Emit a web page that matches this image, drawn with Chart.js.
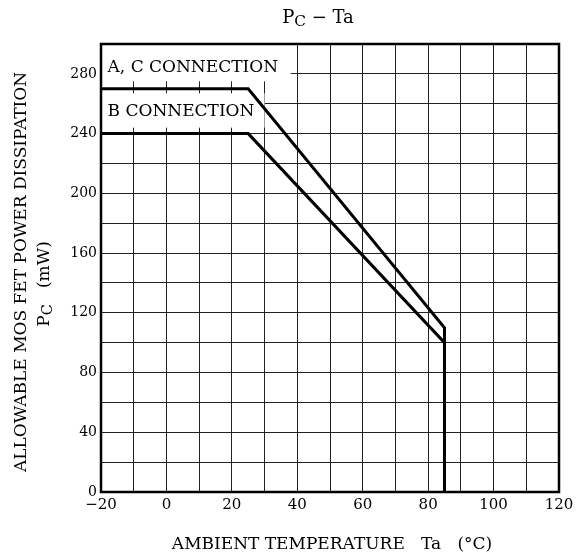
<!DOCTYPE html>
<html>
<head>
<meta charset="utf-8">
<script src="https://cdn.jsdelivr.net/npm/chart.js@4"></script>
<style>
  html, body { margin: 0; padding: 0; background: #fff; }
  #wrap { width: 587px; height: 560px; }
</style>
</head>
<body>
<div id="wrap"><canvas id="chart" width="587" height="560"></canvas></div>
<script>
// curve data (Ta in degC, Pc in mW)
const tempsAC = [-20, 25, 85, 85];
const powerAC = [270, 270, 110, 0];
const tempsB = [-20, 25, 85, 85];
const powerB = [240, 240, 100, 0];

// tick labels
const xTickValues = [-20, 0, 20, 40, 60, 80, 100, 120];
const xTickLabels = ['\u221220', '0', '20', '40', '60', '80', '100', '120'];
const yTickValues = [0, 40, 80, 120, 160, 200, 240, 280];

const seriesNames = ['A, C CONNECTION', 'B CONNECTION'];

const FONT = '"DejaVu Serif", "Liberation Serif", serif';

function toPoints(xs, ys) {
    return xs.map((x, i) => ({ x: x, y: ys[i] }));
}

// text with a lowered "C" after P (Pc)
function drawSub(ctx, x, y, main, sub, rest, size) {
    const subSize = size * 0.85;
    ctx.font = size + 'px ' + FONT;
    const w1 = ctx.measureText(main).width;
    ctx.font = subSize + 'px ' + FONT;
    const w2 = ctx.measureText(sub).width;
    ctx.font = size + 'px ' + FONT;
    const w3 = ctx.measureText(rest).width;
    const start = x - (w1 + w2 + w3) / 2;
    ctx.textAlign = 'left';
    ctx.textBaseline = 'middle';
    ctx.fillText(main, start, y);
    ctx.font = subSize + 'px ' + FONT;
    ctx.fillText(sub, start + w1, y + size * 0.22);
    ctx.font = size + 'px ' + FONT;
    ctx.fillText(rest, start + w1 + w2, y);
}

const decorPlugin = {
    id: 'decor',
    beforeDatasetsDraw(chart) {
        const ctx = chart.ctx;
        const xs = chart.scales.x, ys = chart.scales.y;
        ctx.save();
        // label boxes hide the grid behind them
        ctx.fillStyle = '#fff';
        const boxes = [[-20, 38, 275, 300], [-20, 30, 244, 267]];
        boxes.forEach(b => {
            const l = xs.getPixelForValue(b[0]), r = xs.getPixelForValue(b[1]);
            const t = ys.getPixelForValue(b[3]), bt = ys.getPixelForValue(b[2]);
            ctx.fillRect(l, t, r - l, bt - t);
        });
        ctx.fillStyle = '#000';
        ctx.font = '17px ' + FONT;
        ctx.textAlign = 'left';
        ctx.textBaseline = 'middle';
        ctx.fillText(seriesNames[0], xs.getPixelForValue(-18), ys.getPixelForValue(284.5));
        ctx.fillText(seriesNames[1], xs.getPixelForValue(-18), ys.getPixelForValue(255));
        ctx.restore();
    },
    afterDraw(chart) {
        const ctx = chart.ctx;
        const a = chart.chartArea;
        ctx.save();
        // frame
        ctx.strokeStyle = '#000';
        ctx.lineWidth = 2.5;
        ctx.strokeRect(a.left, a.top, a.right - a.left, a.bottom - a.top);
        ctx.fillStyle = '#000';
        // title
        drawSub(ctx, 318, 18, 'P', 'C', ' \u2212 Ta', 18);
        // x title
        ctx.font = '17px ' + FONT;
        ctx.textAlign = 'center';
        ctx.textBaseline = 'middle';
        ctx.fillText('AMBIENT TEMPERATURE   Ta   (\u00b0C)', 332, 545);
        // y title (two lines, rotated)
        ctx.translate(22, 272);
        ctx.rotate(-Math.PI / 2);
        ctx.fillText('ALLOWABLE MOS FET POWER DISSIPATION', 0, 0);
        ctx.restore();
        ctx.save();
        ctx.fillStyle = '#000';
        ctx.translate(45, 284);
        ctx.rotate(-Math.PI / 2);
        drawSub(ctx, 0, 0, 'P', 'C', '   (mW)', 17);
        ctx.restore();
    }
};

new Chart(document.getElementById('chart'), {
    type: 'line',
    data: {
        datasets: [
            {
                label: seriesNames[0],
                data: toPoints(tempsAC, powerAC),
                borderColor: '#000',
                borderWidth: 3,
                pointRadius: 0,
                tension: 0,
                fill: false
            },
            {
                label: seriesNames[1],
                data: toPoints(tempsB, powerB),
                borderColor: '#000',
                borderWidth: 3,
                pointRadius: 0,
                tension: 0,
                fill: false
            }
        ]
    },
    options: {
        responsive: false,
        animation: false,
        layout: { padding: { left: 0, top: 44, right: 28, bottom: 0 } },
        plugins: {
            legend: { display: false },
            tooltip: { enabled: false }
        },
        scales: {
            x: {
                type: 'linear',
                min: -20,
                max: 120,
                afterFit: (scale) => { scale.height = 68; },
                ticks: {
                    stepSize: 10,
                    autoSkip: false,
                    maxRotation: 0,
                    padding: 4,
                    color: '#000',
                    font: { family: FONT, size: 15 },
                    callback: (v) => {
                        const i = xTickValues.indexOf(v);
                        return i >= 0 ? xTickLabels[i] : '';
                    }
                },
                grid: { color: '#222', lineWidth: 1, drawTicks: false },
                border: { display: false }
            },
            y: {
                type: 'linear',
                min: 0,
                max: 300,
                afterFit: (scale) => { scale.width = 101; },
                ticks: {
                    stepSize: 20,
                    autoSkip: false,
                    padding: 4,
                    color: '#000',
                    font: { family: FONT, size: 14 },
                    callback: (v) => yTickValues.includes(v) ? String(v) : ''
                },
                grid: { color: '#222', lineWidth: 1, drawTicks: false },
                border: { display: false }
            }
        }
    },
    plugins: [decorPlugin]
});
</script>
</body>
</html>
